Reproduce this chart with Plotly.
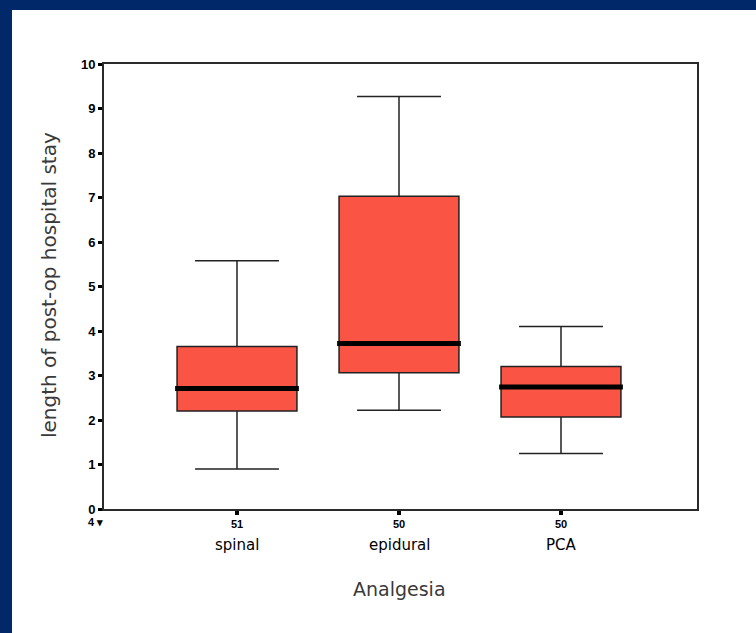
import plotly.graph_objects as go

# ---- data ----
categories = ["spinal", "epidural", "PCA"]
counts = ["51", "50", "50"]
lower_whisker = [0.90, 2.22, 1.25]
q1_vals = [2.20, 3.06, 2.07]
median_vals = [2.71, 3.72, 2.74]
q3_vals = [3.65, 7.03, 3.20]
upper_whisker = [5.58, 9.27, 4.10]
y_ticks = list(range(0, 11))

# ---- layout geometry (pixels) ----
WIDTH, HEIGHT = 756, 633
L, R, T, B = 104, 697, 64, 509
PW, PH = R - L, B - T

def px2x(px):
    return (px - L) / PW

def py2y(py):
    return (B - py) / PH

NAVY = "#01296A"
RED = "#FA5444"
positions = list(range(len(categories)))
box_w = 0.74

fig = go.Figure()
fig.add_trace(go.Box(
    x=positions,
    q1=q1_vals, median=median_vals, q3=q3_vals,
    lowerfence=lower_whisker, upperfence=upper_whisker,
    width=box_w, whiskerwidth=0.7,
    fillcolor=RED, line=dict(color="#222222", width=1.5),
    boxpoints=False, showlegend=False, hoverinfo="skip",
))

# thick median bars
for p, m in zip(positions, median_vals):
    fig.add_trace(go.Scatter(
        x=[p - box_w / 2 - 0.012, p + box_w / 2 + 0.012], y=[m, m],
        mode="lines", line=dict(color="black", width=5),
        showlegend=False, hoverinfo="skip",
    ))

fig.update_xaxes(
    range=[(L - 237) / 162, (R - 237) / 162],
    tickmode="array", tickvals=positions, ticktext=counts,
    ticks="outside", ticklen=4, tickwidth=4, tickcolor="black",
    tickfont=dict(family="Liberation Sans", size=11, color="black", weight="bold"),
    showline=True, linecolor="#2a2a2a", linewidth=2, mirror=True,
    showgrid=False, zeroline=False,
)
fig.update_yaxes(
    range=[0, 10],
    tickmode="array", tickvals=y_ticks, ticktext=[str(v) for v in y_ticks],
    ticks="outside", ticklen=4, tickwidth=3, tickcolor="black",
    tickfont=dict(family="Liberation Sans", size=13, color="black", weight="bold"),
    showline=True, linecolor="#2a2a2a", linewidth=2, mirror=True,
    showgrid=False, zeroline=False,
)

annotations = []
for p, c in zip(positions, categories):
    annotations.append(dict(
        x=p, xref="x", y=py2y(545), yref="paper", text=c, showarrow=False,
        xanchor="center", yanchor="middle",
        font=dict(family="DejaVu Sans", size=15, color="black"),
    ))
annotations.append(dict(
    x=px2x(95), xref="paper", y=py2y(522), yref="paper", text="4 ▾",
    showarrow=False, xanchor="center", yanchor="middle",
    font=dict(family="Liberation Sans", size=11, color="black", weight="bold"),
))
annotations.append(dict(
    x=px2x(399), xref="paper", y=py2y(589), yref="paper", text="Analgesia",
    showarrow=False, xanchor="center", yanchor="middle",
    font=dict(family="DejaVu Sans", size=19, color="#3a3a3a"),
))
annotations.append(dict(
    x=px2x(49), xref="paper", y=py2y(285), yref="paper",
    text="length of post-op hospital stay", textangle=-90,
    showarrow=False, xanchor="center", yanchor="middle",
    font=dict(family="DejaVu Sans", size=20, color="#3a3a3a"),
))

shapes = [
    dict(type="rect", xref="paper", yref="paper", layer="below",
         x0=px2x(0), x1=px2x(12), y0=py2y(HEIGHT), y1=py2y(0),
         fillcolor=NAVY, line=dict(width=0)),
    dict(type="rect", xref="paper", yref="paper", layer="below",
         x0=px2x(0), x1=px2x(WIDTH), y0=py2y(10), y1=py2y(0),
         fillcolor=NAVY, line=dict(width=0)),
]

fig.update_layout(
    width=WIDTH, height=HEIGHT,
    margin=dict(l=L, r=WIDTH - R, t=T, b=HEIGHT - B, pad=0),
    paper_bgcolor="white", plot_bgcolor="white",
    annotations=annotations, shapes=shapes,
    showlegend=False,
)

fig.write_html(
    "out.html",
    config={"displayModeBar": False},
    post_script="document.body.style.margin='0';document.body.style.padding='0';document.body.style.overflow='hidden';",
)
